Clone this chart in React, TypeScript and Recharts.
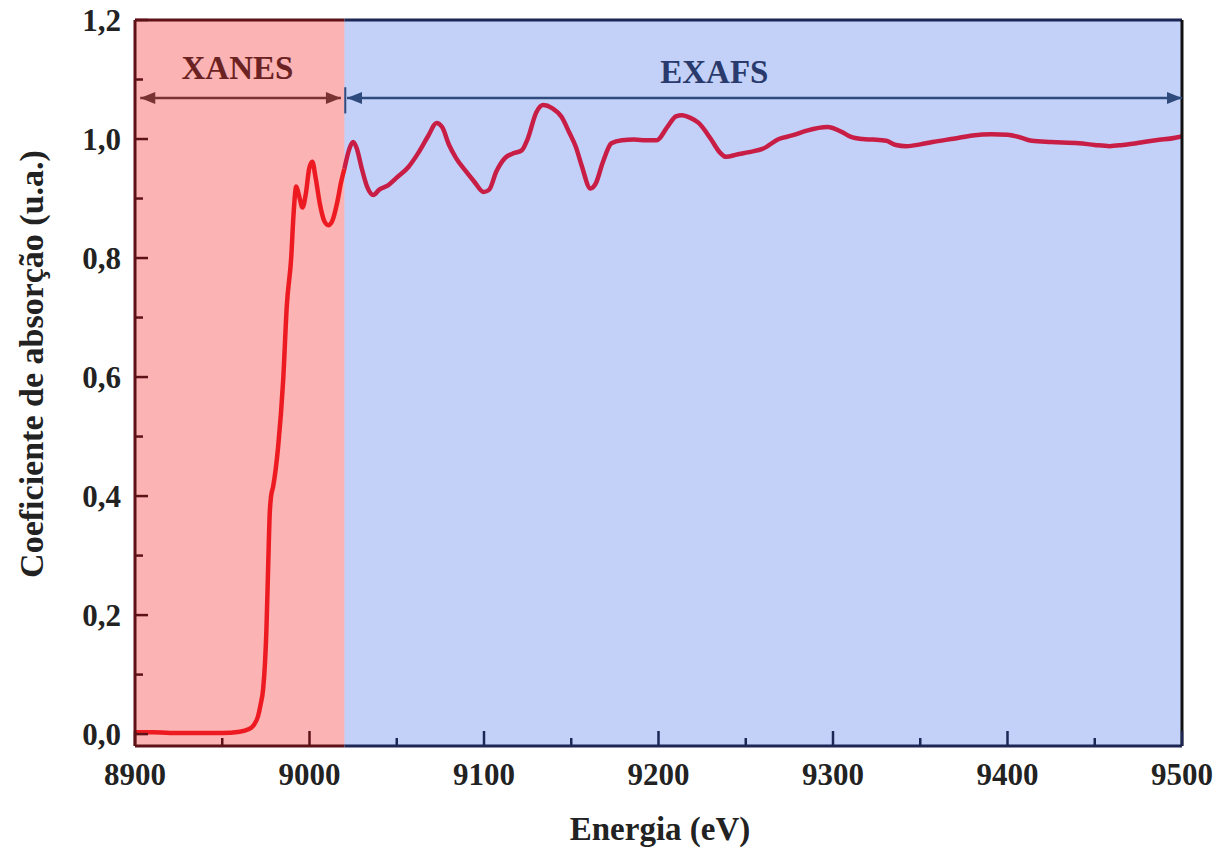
import { LineChart, Line, XAxis, YAxis, ReferenceArea, ReferenceLine, ReferenceDot, Label } from 'recharts'

// XANES part of the spectrum (red)
const xanesEnergy = [
  8900, 8910, 8920, 8930, 8940, 8950, 8960, 8965, 8968, 8970.5, 8972, 8973.4, 8974.5, 8975.3, 8976.3, 8977.2,
  8978, 8979.1, 8982, 8984.9, 8987, 8989.5, 8991, 8992.4, 8994, 8996, 8998, 8999.8, 9001.6, 9003.5, 9006,
  9008.5, 9010.8, 9013, 9016, 9018, 9020,
]
const xanesAbs = [
  0.003, 0.003, 0.002, 0.002, 0.002, 0.002, 0.004, 0.008, 0.015, 0.03, 0.05, 0.075, 0.12, 0.174, 0.28, 0.37,
  0.4, 0.415, 0.482, 0.594, 0.72, 0.8, 0.88, 0.92, 0.905, 0.885, 0.91, 0.95, 0.962, 0.935, 0.89,
  0.862, 0.855, 0.862, 0.895, 0.926, 0.95,
]

// EXAFS part of the spectrum (crimson)
const exafsEnergy = [
  9020, 9023, 9025, 9027, 9030, 9033, 9036.6, 9040, 9045, 9050, 9056.7, 9062, 9068, 9072.8, 9076, 9080,
  9084, 9089, 9094, 9099.8, 9103, 9107, 9112, 9116, 9121.6, 9125, 9130, 9134, 9139, 9144.5, 9149, 9152.6,
  9156, 9161, 9164, 9168, 9173, 9179, 9186, 9193, 9199, 9205, 9210, 9213.4, 9218, 9223, 9230, 9235,
  9238.7, 9245, 9252, 9260, 9269, 9276.6, 9285, 9296.7, 9305, 9310, 9316.8, 9323, 9330.5, 9336, 9342,
  9350, 9357, 9370, 9380, 9391, 9400, 9407, 9414, 9425, 9441, 9450, 9458.5, 9466, 9474, 9485, 9497.6, 9500,
]
const exafsAbs = [
  0.95, 0.985, 0.995, 0.985, 0.95, 0.92, 0.906, 0.915, 0.922, 0.935, 0.953, 0.975, 1.005, 1.027, 1.02, 0.99,
  0.968, 0.948, 0.93, 0.911, 0.915, 0.945, 0.968, 0.975, 0.981, 1.0, 1.045, 1.057, 1.052, 1.037, 1.01, 0.987,
  0.955, 0.917, 0.925, 0.96, 0.993, 0.998, 0.999, 0.998, 0.998, 1.02, 1.038, 1.04, 1.036, 1.027, 1.0, 0.978,
  0.97, 0.974, 0.978, 0.984, 1.0, 1.006, 1.014, 1.02, 1.012, 1.004, 1.0, 0.999, 0.997, 0.99, 0.988,
  0.991, 0.995, 1.001, 1.006, 1.008, 1.007, 1.003, 0.997, 0.995, 0.993, 0.99, 0.988, 0.99, 0.993, 0.998, 1.003, 1.005,
]

const xTicks = [8900, 8950, 9000, 9050, 9100, 9150, 9200, 9250, 9300, 9350, 9400, 9450, 9500]
const yTicks = [0, 0.1, 0.2, 0.3, 0.4, 0.5, 0.6, 0.7, 0.8, 0.9, 1.0, 1.1, 1.2]

const xMin = 8900
const xMax = 9500
const yMin = -0.02
const yMax = 1.2
const edge = 9020 // XANES / EXAFS boundary
const arrowY = 1.069

const xanesData = xanesEnergy.map((e, i) => ({ e, v: xanesAbs[i] }))
const exafsData = exafsEnergy.map((e, i) => ({ e, v: exafsAbs[i] }))

const font = '"Liberation Serif", "Times New Roman", serif'
const darkRed = '#5e1218'
const navy = '#1c2756'

function XTick({ x, y, payload }: any) {
  const v = payload.value
  const major = v % 100 === 0
  const color = v <= edge ? darkRed : navy
  return (
    <g>
      <line x1={x} x2={x} y1={y} y2={y - (major ? 15 : 8)} stroke={color} strokeWidth={2.5} />
      {major ? (
        <text x={x} y={y + 28} textAnchor="middle" dominantBaseline="central" fontFamily={font} fontWeight="bold" fontSize={31} fill="#222">
          {v}
        </text>
      ) : null}
    </g>
  )
}

function YTick({ x, y, payload }: any) {
  const v = payload.value
  const major = Math.round(v * 10) % 2 === 0
  return (
    <g>
      <line x1={x} x2={x + (major ? 13 : 8)} y1={y} y2={y} stroke={darkRed} strokeWidth={2.5} />
      {major ? (
        <text x={x - 14} y={y} textAnchor="end" dominantBaseline="central" fontFamily={font} fontWeight="bold" fontSize={31} fill="#222">
          {v.toFixed(1).replace('.', ',')}
        </text>
      ) : null}
    </g>
  )
}

function arrowHead(dir: number, color: string) {
  return (props: any) => {
    const { cx, cy } = props
    return <polygon points={`${cx},${cy} ${cx - dir * 15},${cy - 6} ${cx - dir * 15},${cy + 6}`} fill={color} />
  }
}

function regionLabel(text: string, color: string) {
  return (props: any) => (
    <text x={props.cx} y={props.cy} textAnchor="middle" dominantBaseline="central" fontFamily={font} fontWeight="bold" fontSize={33} fill={color}>
      {text}
    </text>
  )
}

export default function App() {
  return (
    <div style={{ position: 'absolute', left: 0, top: 0, width: 1225, height: 849, background: '#fff' }}>
      <LineChart width={1225} height={849} margin={{ top: 20, right: 43, bottom: 8, left: 8 }}>
        <ReferenceArea x1={xMin} x2={edge + 0.5} y1={yMin} y2={yMax} fill="#fbb3b3" fillOpacity={1} stroke="none" />
        <ReferenceArea x1={edge} x2={xMax} y1={yMin} y2={yMax} fill="#c3d1f9" fillOpacity={1} stroke="none" />

        <XAxis
          type="number"
          dataKey="e"
          domain={[xMin, xMax]}
          ticks={xTicks}
          interval={0}
          allowDataOverflow
          height={95}
          tickSize={0}
          tickMargin={0}
          axisLine={false}
          tick={<XTick />}
        >
          <Label
            content={() => (
              <text x={660} y={829} textAnchor="middle" dominantBaseline="central" fontFamily={font} fontWeight="bold" fontSize={33} fill="#222">
                Energia (eV)
              </text>
            )}
          />
        </XAxis>
        <YAxis
          type="number"
          domain={[yMin, yMax]}
          ticks={yTicks}
          interval={0}
          allowDataOverflow
          width={127}
          tickSize={0}
          tickMargin={0}
          axisLine={false}
          tick={<YTick />}
        >
          <Label
            content={() => (
              <text x={31} y={364} transform="rotate(-90, 31, 364)" textAnchor="middle" dominantBaseline="central" fontFamily={font} fontWeight="bold" fontSize={34} fill="#222">
                Coeficiente de absorção (u.a.)
              </text>
            )}
          />
        </YAxis>

        <Line data={xanesData} dataKey="v" type="monotone" stroke="#ee1a22" strokeWidth={4.5} dot={false} isAnimationActive={false} />
        <Line data={exafsData} dataKey="v" type="monotone" stroke="#c81e46" strokeWidth={4.5} dot={false} isAnimationActive={false} />

        {/* frame */}
        <ReferenceLine segment={[{ x: xMin, y: yMin }, { x: xMin, y: yMax }]} stroke={darkRed} strokeWidth={3} />
        <ReferenceLine segment={[{ x: xMin, y: yMin }, { x: edge, y: yMin }]} stroke={darkRed} strokeWidth={3} />
        <ReferenceLine segment={[{ x: edge, y: yMin }, { x: xMax, y: yMin }]} stroke={navy} strokeWidth={3} />
        <ReferenceLine segment={[{ x: xMin, y: yMax }, { x: edge, y: yMax }]} stroke={darkRed} strokeWidth={3} />
        <ReferenceLine segment={[{ x: edge, y: yMax }, { x: xMax, y: yMax }]} stroke={navy} strokeWidth={3} />
        <ReferenceLine segment={[{ x: xMax, y: yMin }, { x: xMax, y: yMax }]} stroke="#111" strokeWidth={3} />

        {/* XANES / EXAFS arrows */}
        <ReferenceLine segment={[{ x: 8903, y: arrowY }, { x: 9018, y: arrowY }]} stroke="#7a3333" strokeWidth={2.5} />
        <ReferenceDot x={8903} y={arrowY} r={0} shape={arrowHead(-1, '#7a3333')} />
        <ReferenceDot x={9018} y={arrowY} r={0} shape={arrowHead(1, '#7a3333')} />
        <ReferenceLine segment={[{ x: 9021.5, y: arrowY }, { x: 9500, y: arrowY }]} stroke="#2f4a7c" strokeWidth={2.5} />
        <ReferenceLine segment={[{ x: 9020.5, y: 1.087 }, { x: 9020.5, y: 1.043 }]} stroke="#2f4a7c" strokeWidth={2} />
        <ReferenceDot x={9021.5} y={arrowY} r={0} shape={arrowHead(-1, '#2f4a7c')} />
        <ReferenceDot x={9500} y={arrowY} r={0} shape={arrowHead(1, '#2f4a7c')} />
        <ReferenceDot x={8958.7} y={1.119} r={0} shape={regionLabel('XANES', '#6b2222')} />
        <ReferenceDot x={9232} y={1.113} r={0} shape={regionLabel('EXAFS', '#2a3a6c')} />
      </LineChart>
    </div>
  )
}
